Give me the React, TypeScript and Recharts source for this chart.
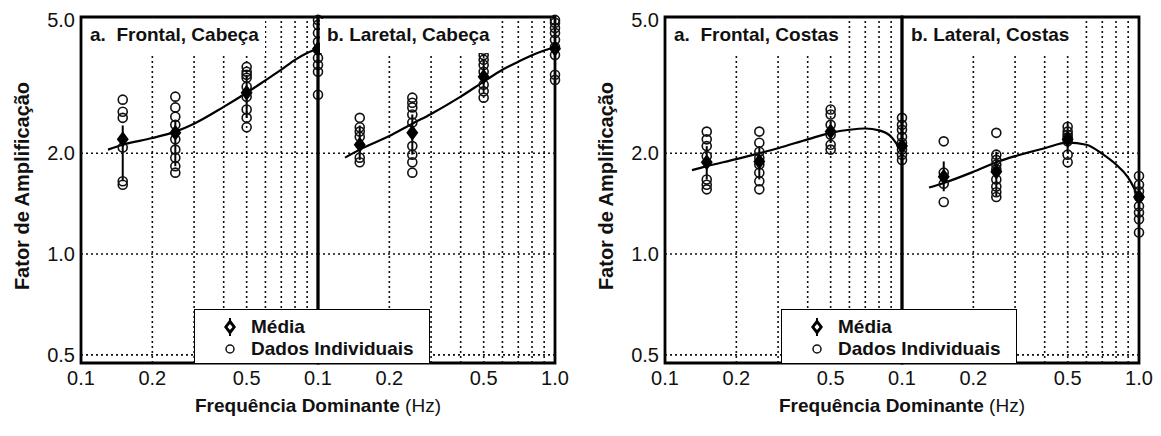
import { ComposedChart, Line, Scatter, XAxis, YAxis, ReferenceLine, ReferenceArea, ErrorBar } from "recharts";

const FONT = '"Liberation Sans", Arial, Helvetica, sans-serif';

// frequencies (Hz) where the subjects were measured
const freqs = [0.15, 0.25, 0.5, 1.0];
// frequencies used for the fitted curve
const curveFreqs = [0.13, 0.15, 0.2, 0.25, 0.3, 0.4, 0.5, 0.6, 0.7, 0.8, 0.9, 0.95, 1.0];

const yTicks = [0.5, 1.0, 2.0, 5.0];
const xTicksLeft = [0.1, 0.2, 0.5];
const xTicksRight = [0.1, 0.2, 0.5, 1.0];
const xGrid = [0.2, 0.3, 0.4, 0.5, 0.6, 0.7, 0.8, 0.9];
const yGrid = [0.5, 1.0, 2.0];

// a. Frontal, Cabeça
const frontalCabecaDados = [
  [2.89, 2.66, 2.55, 2.08, 1.65, 1.61],
  [2.95, 2.74, 2.57, 2.43, 2.2, 2.05, 1.94, 1.83, 1.75],
  [3.62, 3.5, 3.43, 3.36, 3.16, 2.95, 2.7, 2.55, 2.39],
  [5.0, 4.83, 4.57, 4.3, 4.07, 3.85, 3.67, 3.5, 2.99],
];
const frontalCabecaMedia = [2.2, 2.3, 3.03, 4.1];
const frontalCabecaDesvio = [[0.55, 0.22], [0.47, 0.2], [0.48, 0.4], [0.6, 0.5]];
const frontalCabecaCurva = [2.05, 2.12, 2.22, 2.32, 2.45, 2.75, 3.03, 3.3, 3.55, 3.8, 3.98, 4.05, 4.12];

// b. Laretal, Cabeça
const lateralCabecaDados = [
  [2.55, 2.39, 2.32, 2.24, 1.94, 1.88],
  [2.93, 2.83, 2.74, 2.61, 2.47, 2.1, 1.98, 1.88, 1.75],
  [4.07, 3.93, 3.8, 3.67, 3.5, 3.2, 3.06, 2.93],
  [5.0, 4.9, 4.73, 4.57, 4.36, 4.15, 3.93, 3.43, 3.31],
];
const lateralCabecaMedia = [2.12, 2.3, 3.38, 4.1];
const lateralCabecaDesvio = [[0.21, 0.3], [0.32, 0.31], [0.32, 0.42], [0.67, 0.63]];
const lateralCabecaCurva = [1.94, 2.05, 2.25, 2.45, 2.62, 2.95, 3.27, 3.55, 3.75, 3.92, 4.05, 4.1, 4.15];

// a. Frontal, Costas
const frontalCostasDados = [
  [2.32, 2.2, 2.1, 1.96, 1.67, 1.61, 1.56],
  [2.32, 2.15, 2.02, 1.94, 1.85, 1.75, 1.65, 1.56],
  [2.7, 2.61, 2.43, 2.27, 2.12, 2.05],
  [2.55, 2.43, 2.35, 2.24, 2.15, 2.05, 1.98, 1.91],
];
const frontalCostasMedia = [1.88, 1.89, 2.32, 2.1];
const frontalCostasDesvio = [[0.21, 0.22], [0.22, 0.21], [0.17, 0.16], [0.19, 0.2]];
const frontalCostasCurva = [1.78, 1.83, 1.92, 2.0, 2.07, 2.2, 2.3, 2.35, 2.37, 2.34, 2.24, 2.13, 2.02];

// b. Lateral, Costas
const lateralCostasDados = [
  [2.17, 1.75, 1.62, 1.43],
  [2.3, 1.98, 1.91, 1.85, 1.79, 1.67, 1.59, 1.53, 1.48],
  [2.4, 2.32, 2.27, 2.23, 2.17, 1.98, 1.88],
  [1.71, 1.61, 1.54, 1.48, 1.39, 1.33, 1.27, 1.16],
];
const lateralCostasMedia = [1.7, 1.76, 2.2, 1.48];
const lateralCostasDesvio = [[0.16, 0.19], [0.27, 0.26], [0.2, 0.27], [0.21, 0.17]];
const lateralCostasCurva = [1.58, 1.63, 1.76, 1.88, 1.96, 2.07, 2.15, 2.12, 1.99, 1.85, 1.69, 1.58, 1.46];

// layout
const Y_DOMAIN: [number, number] = [0.473, 5.1];
const X_DOMAIN: [number, number] = [0.1, 1.0];
const TOP = 17;
const PLOT_H = 346;
const AXIS_W = 81;
const PANEL_W = 237;
const PAD = 16;
const X_AXIS_H = 40;

const Circle = (p: any) => (
  <circle cx={p.cx} cy={p.cy} r={4.5} fill="none" stroke="#111" strokeWidth={1.6} />
);

const Diamond = (p: any) => (
  <polygon
    points={`${p.cx},${p.cy - 8} ${p.cx + 6},${p.cy} ${p.cx},${p.cy + 8} ${p.cx - 6},${p.cy}`}
    fill="#000"
  />
);

type PanelProps = {
  left: number;
  first: boolean;
  dados: number[][];
  media: number[];
  desvio: number[][];
  curva: number[];
};

function Panel({ left, first, dados, media, desvio, curva }: PanelProps) {
  const indiv = dados.flatMap((col, i) => col.map((y) => ({ x: freqs[i], y })));
  const means = media.map((y, i) => ({ x: freqs[i], y, err: desvio[i] }));
  const curve = curva.map((y, i) => ({ x: curveFreqs[i], y }));
  const marginLeft = first ? 0 : PAD;
  const width = (first ? AXIS_W : PAD) + PANEL_W + PAD;

  return (
    <div style={{ position: "absolute", left: first ? left : left - PAD, top: 0 }}>
      <ComposedChart
        width={width}
        height={TOP + PLOT_H + X_AXIS_H}
        margin={{ top: TOP, right: PAD, bottom: 0, left: marginLeft }}
      >
        <XAxis
          type="number"
          dataKey="x"
          scale="log"
          domain={X_DOMAIN}
          ticks={first ? xTicksLeft : xTicksRight}
          interval={0}
          tickFormatter={(v: number) => v.toFixed(1)}
          tick={{ fontSize: 20, fill: "#111", fontFamily: FONT }}
          tickLine={false}
          axisLine={false}
          tickSize={6}
          height={X_AXIS_H}
        />
        <YAxis
          type="number"
          dataKey="y"
          scale="log"
          domain={Y_DOMAIN}
          ticks={yTicks}
          interval={0}
          hide={!first}
          width={AXIS_W}
          tickFormatter={(v: number) => v.toFixed(1)}
          tick={{ fontSize: 20, fill: "#111", fontFamily: FONT }}
          tickLine={false}
          axisLine={false}
          tickSize={4}
        />
        {xGrid.map((v) => (
          <ReferenceLine key={"gx" + v} x={v} stroke="#111" strokeWidth={1.6} strokeDasharray="2 3" />
        ))}
        {yGrid.map((v) => (
          <ReferenceLine key={"gy" + v} y={v} stroke="#111" strokeWidth={1.6} strokeDasharray="2 3" />
        ))}
        <ReferenceArea
          x1={X_DOMAIN[0]}
          x2={X_DOMAIN[1]}
          y1={Y_DOMAIN[0]}
          y2={Y_DOMAIN[1]}
          fill="none"
          fillOpacity={0}
          stroke="#000"
          strokeWidth={2.8}
        />
        <Scatter data={indiv} shape={Circle} isAnimationActive={false} />
        <Line
          data={curve}
          dataKey="y"
          type="monotone"
          stroke="#000"
          strokeWidth={2.2}
          dot={false}
          activeDot={false}
          isAnimationActive={false}
        />
        <Scatter data={means} shape={Diamond} isAnimationActive={false}>
          <ErrorBar dataKey="err" direction="y" width={0} stroke="#000" strokeWidth={2} />
        </Scatter>
      </ComposedChart>
    </div>
  );
}

const titleStyle = (left: number): React.CSSProperties => ({
  position: "absolute",
  left,
  top: TOP + 2,
  padding: "5px 6px 7px 7px",
  background: "#fff",
  fontFamily: FONT,
  fontWeight: "bold",
  fontSize: 19,
  lineHeight: "22px",
  color: "#111",
  whiteSpace: "pre",
});

function Legend({ left }: { left: number }) {
  return (
    <div
      style={{
        position: "absolute",
        left,
        top: 309,
        width: 236,
        height: TOP + PLOT_H - 309,
        boxSizing: "border-box",
        border: "1.5px solid #000",
        borderBottom: "none",
        background: "#fff",
        fontFamily: FONT,
        fontWeight: "bold",
        fontSize: 19,
        color: "#111",
        paddingLeft: 26,
        paddingTop: 6,
        lineHeight: "22px",
      }}
    >
      <div style={{ display: "flex", alignItems: "center" }}>
        <svg width={30} height={20}>
          <line x1={9} y1={1} x2={9} y2={19} stroke="#000" strokeWidth={2} />
          <polygon points="9,2 15,10 9,18 3,10" fill="#000" />
          <polygon points="9,7 11.5,10 9,13 6.5,10" fill="#fff" />
        </svg>
        <span>Média</span>
      </div>
      <div style={{ display: "flex", alignItems: "center" }}>
        <svg width={30} height={20}>
          <circle cx={9} cy={10} r={4} fill="none" stroke="#111" strokeWidth={1.5} />
        </svg>
        <span>Dados Individuais</span>
      </div>
    </div>
  );
}

function AxisTitles({ figLeft }: { figLeft: number }) {
  const cx = figLeft + AXIS_W + PANEL_W;
  return (
    <>
      <div
        style={{
          position: "absolute",
          left: figLeft + 22,
          top: 186,
          transform: "translate(-50%, -50%) rotate(-90deg)",
          fontFamily: FONT,
          fontWeight: "bold",
          fontSize: 20,
          color: "#111",
          whiteSpace: "nowrap",
        }}
      >
        Fator de Amplificação
      </div>
      <div
        style={{
          position: "absolute",
          left: cx,
          top: 406,
          transform: "translate(-50%, -50%)",
          fontFamily: FONT,
          fontSize: 19,
          color: "#111",
          whiteSpace: "nowrap",
        }}
      >
        <b>Frequência Dominante</b> (Hz)
      </div>
    </>
  );
}

const LEFT_FIG = 0;
const RIGHT_FIG = 584;

export default function App() {
  return (
    <div
      style={{
        position: "absolute",
        left: 0,
        top: 0,
        width: 1161,
        height: 436,
        background: "#fff",
        overflow: "hidden",
      }}
    >
      <Panel
        left={LEFT_FIG}
        first
        dados={frontalCabecaDados}
        media={frontalCabecaMedia}
        desvio={frontalCabecaDesvio}
        curva={frontalCabecaCurva}
      />
      <Panel
        left={LEFT_FIG + AXIS_W + PANEL_W}
        first={false}
        dados={lateralCabecaDados}
        media={lateralCabecaMedia}
        desvio={lateralCabecaDesvio}
        curva={lateralCabecaCurva}
      />
      <Panel
        left={RIGHT_FIG}
        first
        dados={frontalCostasDados}
        media={frontalCostasMedia}
        desvio={frontalCostasDesvio}
        curva={frontalCostasCurva}
      />
      <Panel
        left={RIGHT_FIG + AXIS_W + PANEL_W}
        first={false}
        dados={lateralCostasDados}
        media={lateralCostasMedia}
        desvio={lateralCostasDesvio}
        curva={lateralCostasCurva}
      />

      <div style={titleStyle(LEFT_FIG + AXIS_W + 2)}>a.  Frontal, Cabeça</div>
      <div style={titleStyle(LEFT_FIG + AXIS_W + PANEL_W + 2)}>b. Laretal, Cabeça</div>
      <div style={titleStyle(RIGHT_FIG + AXIS_W + 2)}>a.  Frontal, Costas</div>
      <div style={titleStyle(RIGHT_FIG + AXIS_W + PANEL_W + 2)}>b. Lateral, Costas</div>

      <Legend left={LEFT_FIG + 194} />
      <Legend left={RIGHT_FIG + 197} />

      <AxisTitles figLeft={LEFT_FIG} />
      <AxisTitles figLeft={RIGHT_FIG} />
    </div>
  );
}
